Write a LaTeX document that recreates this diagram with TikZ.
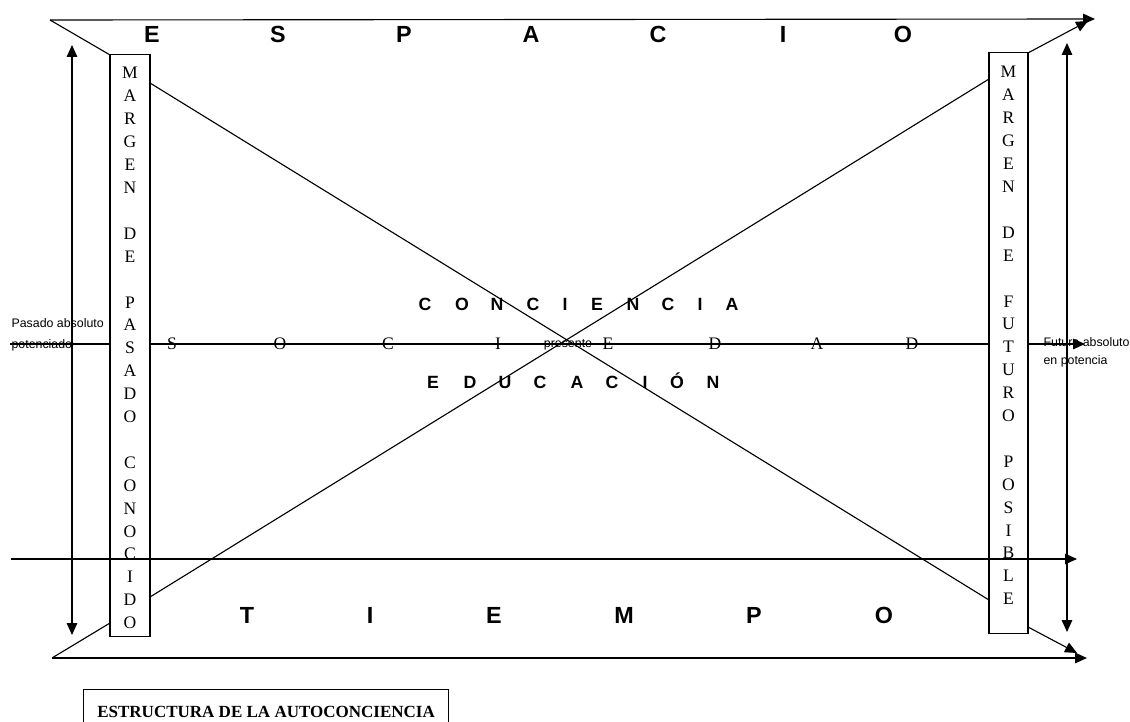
\documentclass[tikz,border=0pt]{standalone}
\usepackage{fontspec}
\setmainfont{Liberation Serif}
\setsansfont{Liberation Sans}
\usetikzlibrary{arrows.meta}

\begin{document}
\begin{tikzpicture}[x=0.025cm,y=-0.025cm,line width=.8pt,
  flecha/.style={-{Triangle[length=8.5pt,width=7.5pt]}},
  dobleflecha/.style={{Triangle[length=8.5pt,width=7.5pt]}-{Triangle[length=8.5pt,width=7.5pt]}},
  margen/.style={draw,inner sep=0pt,outer sep=0pt},
  letragrande/.style={anchor=base,inner sep=0pt,font=\sffamily\bfseries\fontsize{16.6}{20}\selectfont},
  letramedia/.style={anchor=base,inner sep=0pt,font=\sffamily\bfseries\fontsize{12.6}{15}\selectfont},
  letraserif/.style={anchor=base,inner sep=0pt,font=\fontsize{12.5}{15}\selectfont},
  nota/.style={inner sep=0pt,align=left,font=\sffamily\fontsize{8.8}{11}\selectfont}]
\clip (0,0) rectangle (1130,722);
% margenes
\node[margen,minimum width=1cm,minimum height=14.525cm] (pasado) at (130,345.5) {};
\node[margen,minimum width=.975cm,minimum height=14.5cm] (futuro) at (1008.5,343) {};
\foreach \r/\l in {1/M,2/A,3/R,4/G,5/E,6/N,8/D,9/E,11/P,12/A,13/S,14/A,15/D,16/O,18/C,19/O,20/N,21/O,22/C,23/I,24/D,25/O}
  \node[letraserif] (p\r) at (130,{79+(\r-1)*22.9}) {\l};
\foreach \r/\l in {1/M,2/A,3/R,4/G,5/E,6/N,8/D,9/E,11/F,12/U,13/T,14/U,15/R,16/O,18/P,19/O,20/S,21/I,22/B,23/L,24/E}
  \node[letraserif] (f\r) at (1008.5,{78+(\r-1)*22.9}) {\l};
% espacio y tiempo
\coordinate (ti) at (50,20); \coordinate (tf) at (1095,19); \coordinate (td) at (1088,21);
\coordinate (bi) at (52,658); \coordinate (bf) at (1087,658);
\coordinate (bld) at (110,623); \coordinate (brd) at (1028,627); \coordinate (brf) at (1077,653);
\draw[flecha] (ti)--(tf);
\draw (ti)--(pasado.north west);
\draw[flecha] (futuro.north east)--(td);
\draw[flecha] (bi)--(bf);
\draw (bi)--(bld);
\draw[flecha] (brd)--(brf);
\foreach \x/\l [count=\i] in {152/E,278/S,404/P,531/A,658/C,783/I,903/O}
  \node[letragrande] (esp\i) at (\x,43) {\l};
\foreach \x/\l [count=\i] in {247/T,370/I,494/E,624/M,754/P,884/O}
  \node[letragrande] (tie\i) at (\x,623) {\l};
% aspas
\coordinate (xa1) at (150,83); \coordinate (xa2) at (989,600);
\coordinate (xb1) at (150,597); \coordinate (xb2) at (989,79);
\draw (xa1)--(xa2) (xb1)--(xb2);
% sociedad
\coordinate (mi) at (10,344); \coordinate (mf) at (1085,344);
\draw (mi)--(mi-|pasado.west) (mi-|pasado.east)--(mi-|futuro.west);
\draw[flecha] (mi-|futuro.east)--(mf);
\foreach \x/\l [count=\i] in {172/S,280/O,388/C,498/I,608/E,715/D,817/A,912/D}
  \node[letraserif] (soc\i) at (\x,349) {\l};
\node[nota,anchor=base] (presente) at (568,347) {presente};
\foreach \x/\l [count=\i] in {425/C,462/O,497/N,533/C,565/I,597/E,633/N,668/C,700/I,732/A}
  \node[letramedia] (con\i) at (\x,310) {\l};
\foreach \x/\l [count=\i] in {433/E,470/D,505/U,540/C,577/A,612/C,645/I,677/Ó,713/N}
  \node[letramedia] (edu\i) at (\x,388) {\l};
% limites
\coordinate (li) at (11,559); \coordinate (lf) at (1077,559);
\draw[flecha] (li)--(lf);
\coordinate (va1) at (72,45); \coordinate (va2) at (72,635);
\coordinate (vb1) at (1067,43); \coordinate (vb2) at (1067,632);
\draw[dobleflecha] (va1)--(va2);
\draw[dobleflecha] (vb1)--(vb2);
\node[nota,anchor=west,font=\sffamily\fontsize{8.8}{15}\selectfont] (pasadoabs) at (11,334.5) {Pasado absoluto\\potenciado};
\node[nota,anchor=west,font=\sffamily\fontsize{8.8}{12.8}\selectfont] (futuroabs) at (1043,352) {Futuro absoluto\\en potencia};
\node[draw,anchor=north west,minimum width=9.125cm,minimum height=1.125cm,inner sep=0pt,font=\bfseries\fontsize{12.1}{14}\selectfont] (titulo) at (83,689) {ESTRUCTURA DE LA AUTOCONCIENCIA};
\end{tikzpicture}
\end{document}
